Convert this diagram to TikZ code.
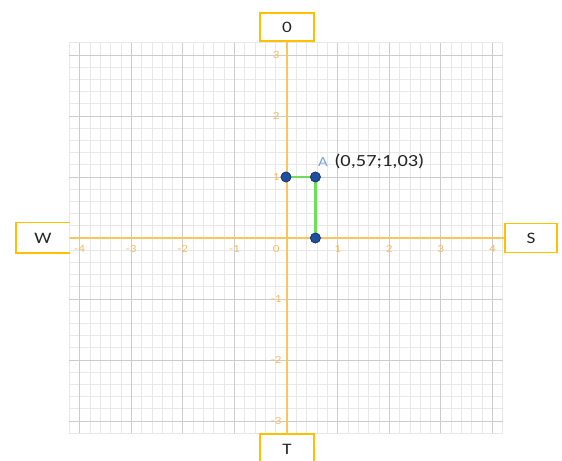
\documentclass[tikz,border=0pt]{standalone}
\usepackage{fontspec}
\newfontfamily\calib[FakeStretch=1.2]{Carlito}
\usetikzlibrary{positioning}
\definecolor{GGgold}{HTML}{FFC000}
\definecolor{GGaxis}{HTML}{F8C65C}
\definecolor{GGtick}{HTML}{F6BC6A}
\definecolor{GGgreen}{HTML}{6FDC5A}
\definecolor{GGblue}{HTML}{1F4E9C}
\definecolor{GGlabel}{HTML}{7DA3DA}
\definecolor{GGtext}{HTML}{262626}
\tikzset{
  dirbox/.style={draw=GGgold, line width=1.8pt, minimum width=52pt, minimum height=29pt,
    inner sep=0pt, font=\calib\fontsize{16}{16}\selectfont, text=GGtext},
  dot/.style={circle, fill=GGblue, draw=GGblue!70!black, line width=0.6pt, inner sep=0pt, minimum size=10pt},
  ticklbl/.style={font=\calib\fontsize{11}{11}\selectfont, text=GGtick, inner sep=0pt},
  seg/.style={GGgreen, line width=2.4pt},
  axisline/.style={GGaxis, line width=1.5pt}
}

\begin{document}
\begin{tikzpicture}[x=51.6pt,y=61pt]
  \useasboundingbox (-5.5426,-3.6557) rectangle (5.3488,3.9016);
  % grid
  \draw[black!9, line width=0.6pt, step=0.2] (-4.2,-3.2) grid (4.2,3.2);
  \draw[black!20, line width=0.9pt, step=1] (-4.2,-3.2) grid (4.2,3.2);
  % direction boxes
  \node[dirbox, draw=none] (W) at (-4.709,0) {W};
  \draw[GGgold, line width=1.8pt] (W.north east) -- (W.north west) -- (W.south west) -- (W.south east);
  \node[dirbox] (S) at (4.748,0) {S};
  \node[dirbox, minimum width=54pt, minimum height=28pt] (O) at (0.02,3.459) {0};
  \node[dirbox, minimum width=54pt, minimum height=32pt] (T) at (0.02,-3.47) {T};
  \draw[axisline] (W.east) -- (S.west);
  \draw[axisline] (O.south) -- (T.north);
  % tick labels
  \foreach \i in {-4,-3,-2,-1,1,2,3,4}
    \node[ticklbl] at (\i,-0.18) {\i};
  \foreach \j in {-3,-2,-1,1,2,3}
    \node[ticklbl] at (-0.19,\j) {\j};
  \node[ticklbl] at (-0.19,-0.18) {0};
  % points
  \node[dot] (P0) at (0,1) {};
  \node[dot] (A) at (0.57,1) {};
  \node[dot] (P1) at (0.57,0) {};
  \draw[seg] (P0) -- (A) -- (P1);
  \node[dot] at (P0) {}; \node[dot] at (A) {}; \node[dot] at (P1) {};
  \node[anchor=base west, inner sep=0pt, text=GGlabel, font=\calib\fontsize{14}{14}\selectfont] (Alab) at (0.62,1.164) {A};
  \node[anchor=base west, inner sep=0pt, text=GGtext, font=\calib\fontsize{17}{17}\selectfont, xshift=6pt] (Acoord) at (Alab.base east) {(0,57;1,03)};
\end{tikzpicture}
\end{document}
